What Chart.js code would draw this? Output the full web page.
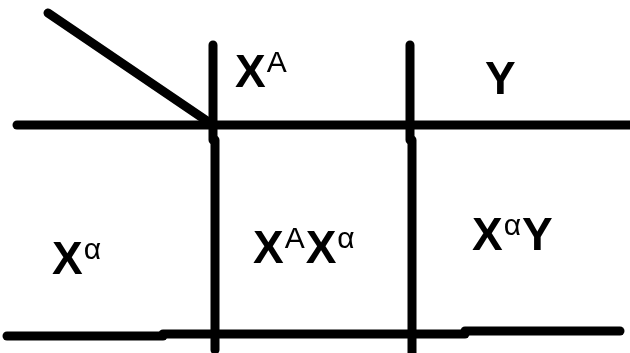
<!DOCTYPE html>
<html>
<head>
<meta charset="utf-8">
<script src="https://cdn.jsdelivr.net/npm/chart.js@4.4.1/dist/chart.umd.min.js"></script>
<style>
    html, body { margin: 0; padding: 0; background: #fff; }
    #wrap { position: relative; width: 630px; height: 353px; }
</style>
</head>
<body>
<div id="wrap"><canvas id="punnett"></canvas></div>
<script>
// Rules of the square, in picture units (0..630 across, 0..353 down)
const cornerDiagonal = [{ x: 48, y: 13 }, { x: 210, y: 123 }];
const headerRule = [{ x: 17, y: 125 }, { x: 630, y: 125 }];
const firstColRuleTop = [{ x: 213, y: 45 }, { x: 213, y: 140 }];
const firstColRuleLow = [{ x: 215, y: 140 }, { x: 215, y: 350 }];
const secondColRuleTop = [{ x: 410, y: 45 }, { x: 410, y: 140 }];
const secondColRuleLow = [{ x: 412, y: 140 }, { x: 412, y: 353 }];
const bottomRuleLeft = [{ x: 7, y: 336 }, { x: 163, y: 336 }];
const bottomRuleMid = [{ x: 163, y: 334 }, { x: 465, y: 334 }];
const bottomRuleRight = [{ x: 465, y: 331 }, { x: 620, y: 331 }];

// Gametes and offspring: each piece is [base letter, superscript]
const gameteLabels = [[['X', 'A']], [['Y', '']], [['X', 'α']]];
const offspringLabels = [[['X', 'A'], ['X', 'α']], [['X', 'α'], ['Y', '']]];
// anchor of each label (left edge, baseline of the big letters)
const labelX = [235, 485, 52, 253, 472];
const labelY = [87, 94, 274, 263, 250];

const segments = [
    cornerDiagonal, headerRule,
    firstColRuleTop, firstColRuleLow,
    secondColRuleTop, secondColRuleLow,
    bottomRuleLeft, bottomRuleMid, bottomRuleRight
];

var allLabels = gameteLabels.concat(offspringLabels);

// draws the genotype texts on top of the rules
var genotypeText = {
    id: 'genotypeText',
    afterDatasetsDraw: function (chart) {
        var ctx = chart.ctx;
        var xs = chart.scales.x;
        var ys = chart.scales.y;
        ctx.save();
        ctx.fillStyle = '#000';
        ctx.textBaseline = 'alphabetic';
        ctx.textAlign = 'left';
        allLabels.forEach(function (pieces, i) {
            var px = xs.getPixelForValue(labelX[i]);
            var py = ys.getPixelForValue(labelY[i]);
            pieces.forEach(function (p) {
                ctx.font = 'bold 46px "Liberation Sans"';
                ctx.fillText(p[0], px, py);
                px += ctx.measureText(p[0]).width;
                if (p[1]) {
                    ctx.font = '30px "Liberation Sans"';
                    ctx.fillText(p[1], px + 1, py - 15);
                    px += ctx.measureText(p[1]).width + 2;
                }
            });
        });
        ctx.restore();
    }
};

new Chart(document.getElementById('punnett').getContext('2d'), {
    type: 'scatter',
    data: {
        datasets: segments.map(function (seg) {
            return {
                data: seg,
                showLine: true,
                fill: false,
                borderColor: '#000',
                borderWidth: 9,
                borderCapStyle: 'round',
                pointRadius: 0,
                pointHoverRadius: 0,
                clip: false
            };
        })
    },
    options: {
        responsive: true,
        maintainAspectRatio: false,
        animation: false,
        layout: { padding: 0 },
        plugins: {
            legend: { display: false },
            tooltip: { enabled: false }
        },
        scales: {
            x: { type: 'linear', min: 0, max: 630, display: false },
            y: { type: 'linear', min: 0, max: 353, reverse: true, display: false }
        }
    },
    plugins: [genotypeText]
});
</script>
</body>
</html>
